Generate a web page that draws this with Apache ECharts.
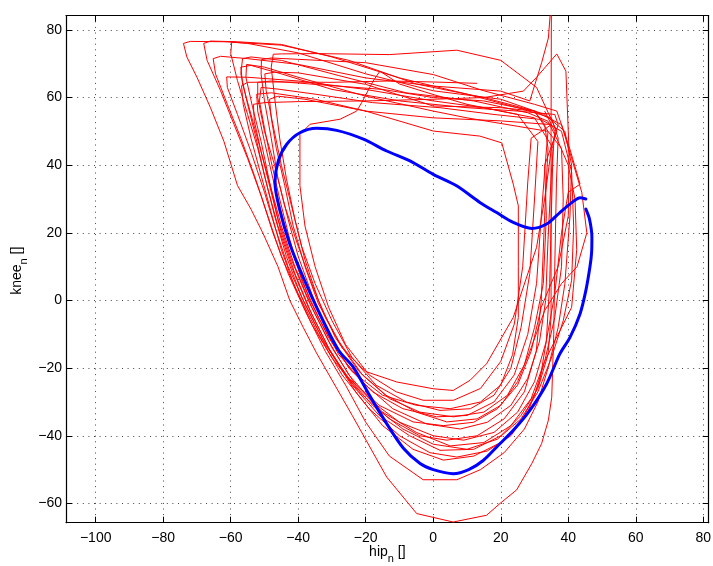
<!DOCTYPE html>
<html>
<head>
<meta charset="utf-8">
<script src="https://cdn.jsdelivr.net/npm/echarts@6/dist/echarts.min.js"></script>
<style>
html,body{margin:0;padding:0;background:#fff;}
#chart{width:713px;height:566px;}
</style>
</head>
<body>
<div id="chart"></div>
<script>
// ---- axis ranges / ticks ----
const xRange = [-108.8, 81.6];
const yRange = [-65.7, 84.2];
const xTickLabels = [-100, -80, -60, -40, -20, 0, 20, 40, 60, 80];
const yTickLabels = [-60, -40, -20, 0, 20, 40, 60, 80];
const xTitle = ['hip', 'n', ' []'];
const yTitle = ['knee', 'n', ' []'];

// ---- mean trajectory (blue) [hip, knee] ----
const blueMean = [
  [45.2,27.0],[46.3,24.0],[47.0,18.6],[46.9,14.0],[46.4,9.8],[45.2,2.9],[43.5,-3.9],[40.5,-10.9],
  [37.5,-15.8],[33.6,-24.6],[28.6,-32.5],[23.7,-38.4],[18.8,-43.3],[14.8,-47.3],[10.5,-50.0],[5.9,-51.2],
  [0.0,-50.0],[-3.9,-48.2],[-8.9,-43.6],[-13.8,-36.4],[-18.8,-28.2],[-23.7,-19.7],[-28.0,-14.8],
  [-33.6,-4.0],[-38.5,6.8],[-42.5,16.7],[-45.4,26.5],[-46.9,34.8],[-45.9,41.3],[-43.4,46.2],
  [-39.5,49.6],[-34.5,50.9],[-28.6,50.3],[-20.7,47.7],[-13.8,44.2],[-6.9,41.3],[0.0,37.3],
  [6.9,33.9],[13.8,29.0],[18.8,26.0],[23.7,23.1],[29.2,21.3],[33.6,22.6],[37.5,26.0],
  [41.5,29.3],[43.5,30.4],[45.2,30.0]
];

// ---- recorded strides (red), one continuous trace, split per stride ----
const stride01 = [[13,64.2],[0,64.6],[-12.8,64.9],[-30,64.5],[-48,64.6],[-55,64.5],[-56.8,63.5],[-56.3,58],[-54,48],[-51,37],[-48,26],[-45,15],[-41,4],[-36,-7],[-30,-17],[-22,-27],[-13,-35],[-4,-40],[4,-41.3],[13,-40],[21,-35],[27,-27],[30.5,-15],[32,0],[33,25],[34,45],[33,52]];
const stride02 = [[30,56],[15,60],[-5,64],[-25,71],[-45,75.5],[-62,76.5],[-72,76.6],[-74,76],[-73,72],[-70,66],[-66,57],[-62,47],[-58,34],[-54,27],[-50.5,20],[-46,10],[-42.5,0],[-38.5,-8],[-34.6,-15.5],[-24,-34],[-13.8,-52.2],[-4.9,-63],[5.9,-65.5],[15.8,-63.5],[19.8,-60],[24.7,-56],[29.2,-48.2],[32.1,-42.3],[34.1,-35.4],[35.1,-28.6],[35.7,-10],[36,10],[36.5,35],[37,48]];
const stride03 = [[35,54],[25,57],[10,61],[-10,65.8],[-30,72],[-45,75.7],[-58,76.5],[-66,76.7],[-68,76],[-67,71],[-63,62],[-59,52],[-55,42],[-51,31],[-47.5,20],[-43,8],[-38,-3],[-32,-15],[-26,-25],[-20,-36],[-13,-46],[-3,-53],[7,-53],[14,-50],[21,-45],[27,-38],[31,-30],[34,-20],[37,-8],[39,5],[40.5,25],[41,40],[39,50]];
const stride04 = [[33,55],[20,59.5],[0,62],[-20,67],[-40,73.2],[-55,76],[-59.7,76.4],[-60,73],[-58,65],[-55,55],[-52,45],[-49,33],[-46,22],[-42,10],[-37,-2],[-31,-14],[-24,-25],[-16,-34],[-7,-40],[2,-44.3],[12,-44],[20,-40],[26,-34],[31,-26],[34,-16],[34.9,-5],[34.9,20],[34.9,50],[35,89],[34.1,77.6],[32.1,70.3],[28.6,59]];
const stride05 = [[20,61.9],[0,63.4],[-20,65.8],[-40,69.8],[-55,71.5],[-63,72.2],[-65.2,71.5],[-64.5,67],[-61,58],[-57,48],[-53,37],[-49,25],[-45,13],[-40,2],[-34,-10],[-27,-22],[-19,-32],[-10,-40],[-1,-45],[7,-46.3],[16,-44.5],[23,-40],[28,-33],[31.5,-24],[33.5,-12],[34.5,5],[35.1,30],[35.5,45]];
const stride06 = [[30,54],[15,57],[0,59],[-20,62.4],[-40,64.9],[-55,66],[-61.2,66.1],[-61,63],[-58,55],[-54,44],[-50,32],[-47,22],[-43,10],[-38,-1],[-32,-13],[-25,-23],[-16,-31],[-6,-35.9],[3,-37],[12,-36],[19,-32],[25,-25],[29,-15],[32,-2],[37,10],[40,25],[40.2,44.7],[39.3,67.8],[36.6,72.9],[30.6,66],[26.7,61.9]];
const stride07 = [[15,60],[0,59.5],[-20,59],[-40,58.8],[-50,58.5],[-53.3,58],[-53,53],[-51,44],[-48,33],[-45,22],[-41,10],[-36,-2],[-30,-14],[-23,-25],[-15,-33],[-5,-39],[5,-43],[15,-42],[23,-37],[29,-29],[33,-18],[36,-5],[38,10],[38.5,30],[38,45]];
const stride08 = [[34,50],[25,51.5],[10,54],[0,56],[-20,60.4],[-40,66],[-50,69],[-55.3,69.8],[-55.5,66],[-53.5,57],[-51,47],[-48.5,35],[-46,24],[-42,12],[-37,0],[-31,-12],[-25,-22],[-18,-30],[-10,-36],[0,-40],[9,-41.3],[18,-39],[25,-33],[30,-24],[33.5,-12],[36,2],[38,20],[40,32],[43.5,34.4],[40.5,44.7]];
const stride09 = [[36.6,56],[30,58],[15,62],[0,66.8],[-20,70.3],[-40,71.3],[-48,71.7],[-50.9,71.2],[-51,67],[-50,59],[-48,48],[-46,36],[-43,24],[-40,13],[-36,2],[-31,-10],[-25,-20],[-18,-27],[-9,-32],[1,-34.4],[10,-34],[18,-30],[24,-22],[28,-10],[30.6,5],[32,25],[33.3,42],[34,50]];
const stride10 = [[30,56],[20,57],[0,57.5],[-20,63.9],[-40,67.3],[-47,67.5],[-49.9,67],[-49.5,62],[-47.5,52],[-45,40],[-42,28],[-39,16],[-35,5],[-30,-6],[-24,-17],[-17,-25],[-8,-30],[2,-32.5],[11,-32],[18,-28],[23,-20],[26,-8],[28.6,8],[30,30],[31,47]];
const stride11 = [[25,55],[10,58],[0,60.9],[-10,64],[-15.8,67.8],[-17.8,64.9],[-21.2,58.5],[-22.7,56],[-27.6,53.6],[-36.5,52.1],[-39.5,49.1],[-39.5,40],[-39.5,34],[-38,22],[-35,10],[-31,-2],[-26,-13],[-19,-22],[-11,-27],[-3,-29.5],[6,-29.5],[14,-26],[20,-18],[24,-7],[26.5,10],[28,35],[29,48]];
const stride12 = [[35,52],[20,53.1],[0,54],[-20,56],[-35,59.5],[-48,61.4],[-52.3,61],[-52,56],[-50,47],[-47.5,36],[-44.5,24],[-41,12],[-36.5,0],[-31,-11],[-24,-21],[-15,-28],[-5,-31],[5,-32],[14,-30],[20,-25],[23.5,-16],[25.2,-5],[25.2,10],[25.2,28],[23.7,34.4],[20.3,46.6],[13.8,48.6]];
const stride13 = [[0,50.1],[-20,56],[-38,59.5],[-46,60.4],[-48.5,59.5],[-48,54],[-46.5,45],[-44,34],[-41.5,22],[-38,10],[-34,-1],[-28,-12],[-21,-22],[-13,-29],[-4,-33],[6,-34.4],[15,-33],[22,-28],[27,-19],[30,-8],[32.6,5],[33.5,25],[33,40],[36.6,50]];
const stride14 = [[30.6,63],[20,71],[7,74],[-13,72.7],[-35,73],[-45,72.9],[-47.4,72.8],[-48,69],[-47,60],[-45.5,48],[-43.5,36],[-41,24],[-38,12],[-34,0],[-29,-11],[-22,-21],[-14,-28],[-5,-33],[4,-35.9],[13,-35],[20,-31],[25,-24],[29,-14],[33,-3],[38,5],[42.6,10],[45.5,20],[44,32],[41,42],[38,52]];
const stride15 = [[30,56],[15,59],[0,60],[-15,62.4],[-35,63.9],[-48,64.9],[-52,64.5],[-52,60],[-50,50],[-47,40],[-44,28],[-40,16],[-36,5],[-32,-5],[-27,-14],[-20,-21],[-10.8,-24.1],[0,-26.1],[5.9,-26.6],[10.9,-23.6],[15.8,-18.7],[23.7,-5],[30.6,15.7],[33,30],[35,45],[37,52]];
const stride16 = [[36,55],[25,56],[10,57],[-10,59],[-30,62.4],[-45,67],[-54,69.5],[-57,69],[-56.5,64],[-54,55],[-51,44],[-48,32],[-45,20],[-41,8],[-36,-4],[-30,-16],[-23,-27],[-15,-37],[-6,-44],[3,-47.2],[12,-46],[20,-42],[26,-36],[30,-28],[33,-18],[37,-10],[41,-2],[42.5,15],[42,30],[40,40],[37,47],[34,53]];
const stride17 = [[28,55.5],[12,59],[-8,61.4],[-28,66.5],[-45,71],[-54,72],[-56.5,71.5],[-57,67],[-55,58],[-52.5,48],[-50,37],[-47,25],[-43.5,13],[-39,1],[-33,-11],[-26,-22],[-18,-31],[-9,-38],[0,-42.5],[10,-44],[19,-41],[26,-35],[31,-27],[35,-17],[38.5,-6],[41,6],[41.6,22],[41,38],[38,50]];
const stride18 = [[32,53.5],[18,55],[2,57],[-18,58.5],[-35,61],[-46,62.5],[-51,63],[-51.5,59],[-50,51],[-48,41],[-45.5,30],[-42.5,18],[-39,6],[-34,-5],[-28,-16],[-20,-25],[-12,-32],[-2,-36.5],[8,-38],[16,-36],[23,-31],[28,-23],[31.5,-12],[33.3,0],[34,18],[35,38],[36,50],[33,56]];

const redTrace = [].concat(stride01, stride02, stride03, stride04, stride05, stride06, stride07, stride08,
  stride09, stride10, stride11, stride12, stride13, stride14, stride15, stride16, stride17, stride18);

const FONT = 'Liberation Sans, Arial, Helvetica, sans-serif';
const fmt = v => (Math.abs(v - Math.round(v)) > 1e-6) ? '' : (v < 0 ? '\u2212' + Math.abs(v) : String(v));

const gridLine = { show: true, lineStyle: { color: '#444', width: 1, type: [1, 4.6] } };
const tickIn = { show: true, inside: true, length: 6, lineStyle: { color: '#000', width: 1 } };
const axisLn = { show: true, onZero: false, lineStyle: { color: '#000', width: 1.2 } };

// text width measuring for the title pieces
const mctx = document.createElement('canvas').getContext('2d');
function tw(str, size) { mctx.font = size + 'px ' + FONT; return mctx.measureText(str).width; }

const G = { left: 66, top: 15.7, width: 642.7, height: 507 };
const MAIN = 14, SUB = 11;

// x title: centred under plot, subscript lowered
const xw = [tw(xTitle[0], MAIN), tw(xTitle[1], SUB), tw(xTitle[2], MAIN)];
const xCx = G.left + G.width / 2;
let xs = xCx - (xw[0] + xw[1] + xw[2]) / 2;
const xMidY = 552.5, xSubY = 559;
const titleEls = [];
titleEls.push({ type: 'text', x: xs, y: xMidY, style: { text: xTitle[0], font: MAIN + 'px ' + FONT, fill: '#000', align: 'left', verticalAlign: 'middle' } });
titleEls.push({ type: 'text', x: xs + xw[0], y: xSubY, style: { text: xTitle[1], font: SUB + 'px ' + FONT, fill: '#000', align: 'left', verticalAlign: 'middle' } });
titleEls.push({ type: 'text', x: xs + xw[0] + xw[1], y: xMidY, style: { text: xTitle[2], font: MAIN + 'px ' + FONT, fill: '#000', align: 'left', verticalAlign: 'middle' } });

// y title: rotated, reads bottom to top
const yw = [tw(yTitle[0], MAIN), tw(yTitle[1], SUB), tw(yTitle[2], MAIN)];
const yCy = G.top + G.height / 2 + 1.5;
let ys = yCy + (yw[0] + yw[1] + yw[2]) / 2;
const yMidX = 17, ySubX = 23.5;
titleEls.push({ type: 'text', x: yMidX, y: ys, rotation: Math.PI / 2, style: { text: yTitle[0], font: MAIN + 'px ' + FONT, fill: '#000', align: 'left', verticalAlign: 'middle' } });
titleEls.push({ type: 'text', x: ySubX, y: ys - yw[0], rotation: Math.PI / 2, style: { text: yTitle[1], font: SUB + 'px ' + FONT, fill: '#000', align: 'left', verticalAlign: 'middle' } });
titleEls.push({ type: 'text', x: yMidX, y: ys - yw[0] - yw[1], rotation: Math.PI / 2, style: { text: yTitle[2], font: MAIN + 'px ' + FONT, fill: '#000', align: 'left', verticalAlign: 'middle' } });

const chart = echarts.init(document.getElementById('chart'), null, { renderer: 'canvas' });
chart.setOption({
  animation: false,
  backgroundColor: '#fff',
  grid: { left: G.left, top: G.top, width: G.width, height: G.height, containLabel: false, outerBoundsMode: 'none' },
  graphic: { elements: titleEls },
  xAxis: [
    {
      type: 'value', min: xRange[0], max: xRange[1], splitNumber: 10,
      position: 'bottom',
      axisLine: axisLn, axisTick: tickIn, splitLine: gridLine,
      axisLabel: { show: true, showMinLabel: false, showMaxLabel: false, formatter: fmt, color: '#000', fontSize: 14, fontFamily: FONT, margin: 8 }
    },
    {
      type: 'value', min: xRange[0], max: xRange[1], splitNumber: 10,
      position: 'top',
      axisLine: axisLn, axisTick: tickIn, splitLine: { show: false },
      axisLabel: { show: false }
    }
  ],
  yAxis: [
    {
      type: 'value', min: yRange[0], max: yRange[1], splitNumber: 8,
      position: 'left',
      axisLine: axisLn, axisTick: tickIn, splitLine: gridLine,
      axisLabel: { show: true, showMinLabel: false, showMaxLabel: false, formatter: fmt, color: '#000', fontSize: 14, fontFamily: FONT, margin: 4 }
    },
    {
      type: 'value', min: yRange[0], max: yRange[1], splitNumber: 8,
      position: 'right',
      axisLine: axisLn, axisTick: tickIn, splitLine: { show: false },
      axisLabel: { show: false }
    }
  ],
  series: [
    {
      type: 'line', name: 'strides', data: redTrace, xAxisIndex: 0, yAxisIndex: 0,
      showSymbol: false, symbol: 'none', clip: true, smooth: false,
      lineStyle: { color: '#ff0000', width: 1 }, z: 2
    },
    {
      type: 'line', name: 'mean', data: blueMean, xAxisIndex: 0, yAxisIndex: 0,
      showSymbol: false, symbol: 'none', clip: true, smooth: 0.3,
      lineStyle: { color: '#0000ff', width: 3, join: 'round', cap: 'round' }, z: 3
    }
  ]
});
</script>
</body>
</html>
